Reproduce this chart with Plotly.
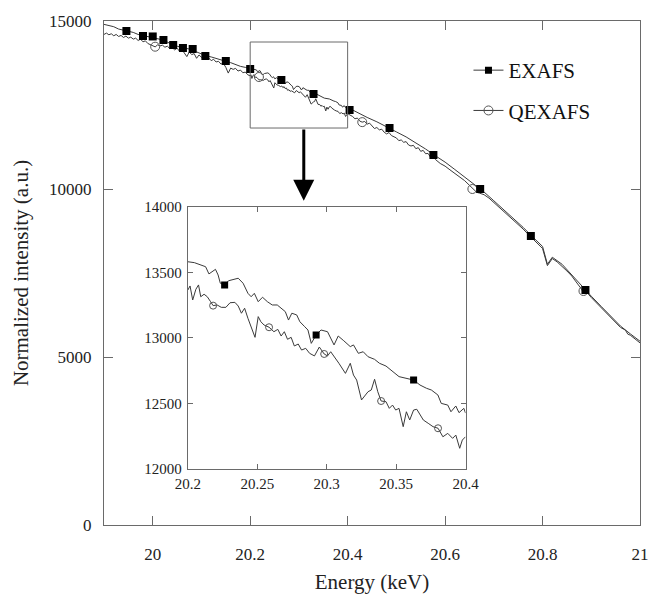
import plotly.graph_objects as go

# ---------------- data ----------------
# main EXAFS line, outside the zoomed window
exafs_left_x = [19.90, 19.91, 19.92, 19.93, 19.94, 19.95, 19.96, 19.97, 19.98, 19.99,
                20.00, 20.01, 20.02, 20.03, 20.04, 20.05, 20.06, 20.07, 20.08, 20.09,
                20.10, 20.11, 20.12, 20.13, 20.14, 20.15, 20.16, 20.17, 20.18, 20.19]
exafs_left_y = [14900, 14870, 14830, 14760, 14730, 14690, 14660, 14600, 14570, 14550,
                14520, 14480, 14440, 14370, 14300, 14250, 14210, 14180, 14150, 14080,
                14010, 13960, 13930, 13880, 13840, 13800, 13760, 13700, 13650, 13620]
exafs_right_x = [20.42, 20.44, 20.46, 20.48, 20.50, 20.52, 20.54, 20.56, 20.58, 20.60,
                 20.62, 20.64, 20.66, 20.68, 20.70, 20.72, 20.74, 20.76, 20.78, 20.80,
                 20.81, 20.82, 20.84, 20.86, 20.88, 20.90, 20.92, 20.94, 20.96, 20.98, 21.00]
exafs_right_y = [12270, 12130, 12000, 11860, 11700, 11550, 11380, 11190, 10990, 10800,
                 10580, 10360, 10150, 9910, 9650, 9390, 9130, 8860, 8570, 8290,
                 7760, 7970, 7760, 7440, 7110, 6810, 6510, 6210, 5920, 5690, 5470]

# main QEXAFS line, outside the zoomed window
qexafs_left_x = [19.900, 19.905, 19.910, 19.915, 19.920, 19.925, 19.930, 19.935, 19.940, 19.945,
                 19.950, 19.955, 19.960, 19.965, 19.970, 19.975, 19.980, 19.985, 19.990, 19.995,
                 20.000, 20.005, 20.010, 20.015, 20.020, 20.025, 20.030, 20.035, 20.040, 20.045,
                 20.050, 20.055, 20.060, 20.065, 20.070, 20.075, 20.080, 20.085, 20.090, 20.095,
                 20.100, 20.105, 20.110, 20.115, 20.120, 20.125, 20.130, 20.135, 20.140, 20.145,
                 20.150, 20.155, 20.160, 20.165, 20.170, 20.175, 20.180, 20.185, 20.190, 20.195]
qexafs_left_y = [14600, 14640, 14590, 14620, 14560, 14600, 14540, 14570, 14510, 14550,
                 14490, 14520, 14460, 14490, 14420, 14460, 14380, 14410, 14330, 14300,
                 14250, 14230, 14290, 14260, 14280, 14220, 14250, 14180, 14210, 14140,
                 14190, 14100, 14150, 14050, 13940, 14080, 14000, 14030, 13890, 13990,
                 13920, 13950, 13860, 13900, 13820, 13860, 13780, 13800, 13720, 13740,
                 13620, 13450, 13600, 13560, 13590, 13510, 13540, 13460, 13480, 13400]
qexafs_right_x = [20.405, 20.410, 20.415, 20.420, 20.425, 20.430, 20.435, 20.440, 20.445, 20.450,
                  20.455, 20.460, 20.465, 20.470, 20.475, 20.480, 20.485, 20.490, 20.495, 20.500,
                  20.505, 20.510, 20.515, 20.520, 20.525, 20.530, 20.535, 20.540, 20.545, 20.550,
                  20.555, 20.560, 20.565, 20.570, 20.575, 20.580, 20.590, 20.600, 20.610, 20.620,
                  20.630, 20.640, 20.650, 20.660, 20.665, 20.670, 20.680, 20.690, 20.700, 20.710,
                  20.720, 20.730, 20.740, 20.750, 20.760, 20.770, 20.780, 20.790, 20.800, 20.810,
                  20.820, 20.830, 20.840, 20.850, 20.860, 20.870, 20.875, 20.880, 20.885, 20.890,
                  20.900, 20.920, 20.940, 20.960, 20.970, 20.975, 20.980, 20.990, 21.000]
qexafs_right_y = [12200, 12160, 12090, 12110, 12020, 11990, 12010, 11930, 11960, 11870,
                  11800, 11830, 11760, 11780, 11690, 11640, 11680, 11590, 11560, 11520,
                  11440, 11460, 11390, 11410, 11310, 11280, 11300, 11200, 11230, 11120,
                  11150, 11050, 11060, 10950, 10990, 10880, 10760, 10680, 10570, 10470,
                  10360, 10250, 10110, 9980, 9900, 9880, 9830, 9730, 9600, 9470,
                  9340, 9220, 9080, 8950, 8810, 8660, 8520, 8380, 8230, 7720,
                  7930, 7830, 7700, 7560, 7410, 7230, 7140, 7020, 6880, 6940,
                  6770, 6470, 6160, 5880, 5800, 5680, 5650, 5540, 5420]

# zoomed window 20.2 - 20.4 keV (shared by the main plot and the inset)
zoom_exafs_x = [20.2000, 20.2047, 20.2128, 20.2152, 20.2199, 20.2218, 20.2234, 20.2265, 20.2293, 20.2363,
                20.2398, 20.2433, 20.2456, 20.2479, 20.2507, 20.2538, 20.2573, 20.2608, 20.2644, 20.2667,
                20.2702, 20.2725, 20.2749, 20.2784, 20.2807, 20.2842, 20.2865, 20.2889, 20.2924, 20.2959,
                20.3006, 20.3053, 20.3083, 20.3123, 20.3170, 20.3193, 20.3228, 20.3263, 20.3298, 20.3345,
                20.3380, 20.3427, 20.3474, 20.3521, 20.3626, 20.3672, 20.3719, 20.3754, 20.3801, 20.3825,
                20.3872, 20.3895, 20.3930, 20.3953, 20.3988, 20.4000]
zoom_exafs_y = [13582, 13575, 13544, 13489, 13524, 13481, 13418, 13405, 13437, 13456,
                13418, 13341, 13315, 13341, 13277, 13311, 13277, 13252, 13252, 13234,
                13201, 13137, 13189, 13176, 13124, 13086, 13061, 12959, 13023, 13061,
                13048, 12947, 13015, 12979, 12934, 12947, 12883, 12895, 12857, 12837,
                12807, 12786, 12743, 12705, 12679, 12641, 12616, 12603, 12565, 12501,
                12488, 12437, 12481, 12430, 12463, 12427]
zoom_qexafs_x = [20.2000, 20.2016, 20.2035, 20.2058, 20.2077, 20.2093, 20.2117, 20.2140, 20.2164, 20.2182,
                 20.2211, 20.2241, 20.2274, 20.2304, 20.2339, 20.2363, 20.2386, 20.2409, 20.2433, 20.2484,
                 20.2507, 20.2526, 20.2549, 20.2585, 20.2620, 20.2648, 20.2672, 20.2695, 20.2718, 20.2744,
                 20.2767, 20.2795, 20.2819, 20.2849, 20.2877, 20.2912, 20.2947, 20.2982, 20.3006, 20.3029,
                 20.3088, 20.3135, 20.3170, 20.3193, 20.3216, 20.3251, 20.3298, 20.3321, 20.3345, 20.3368,
                 20.3392, 20.3427, 20.3451, 20.3474, 20.3497, 20.3521, 20.3551, 20.3574, 20.3598, 20.3626,
                 20.3649, 20.3672, 20.3696, 20.3731, 20.3766, 20.3802, 20.3837, 20.3872, 20.3907, 20.3930,
                 20.3958, 20.3977, 20.4000]
zoom_qexafs_y = [13366, 13397, 13290, 13372, 13405, 13315, 13334, 13315, 13277, 13247,
                 13252, 13234, 13234, 13269, 13272, 13244, 13189, 13227, 13150, 13005,
                 13163, 13124, 13099, 13082, 13048, 13066, 13015, 13048, 12990, 13005,
                 12939, 12954, 12908, 12921, 12883, 12863, 12931, 12878, 12863, 12895,
                 12807, 12730, 12807, 12717, 12679, 12527, 12590, 12603, 12685, 12590,
                 12519, 12514, 12463, 12488, 12450, 12463, 12323, 12437, 12374, 12450,
                 12456, 12412, 12374, 12349, 12323, 12311, 12246, 12272, 12234, 12259,
                 12158, 12221, 12246]

# symbols drawn on the main plot
main_sq_x = [19.946, 19.980, 20.000, 20.022, 20.042, 20.062, 20.082, 20.108, 20.150,
             20.200, 20.264, 20.330, 20.404, 20.486, 20.576, 20.672, 20.776, 20.888]
main_sq_y = [14702, 14554, 14540, 14435, 14286, 14196, 14167, 13958, 13810,
             13571, 13244, 12827, 12351, 11815, 11012, 10000, 8601, 6994]
main_ci_x = [20.005, 20.218, 20.430, 20.656, 20.884]
main_ci_y = [14235, 13333, 11990, 10000, 6964]

# symbols drawn in the inset
inset_sq_x = [20.2265, 20.2924, 20.3626]
inset_sq_y = [13405, 13023, 12679]
inset_ci_x = [20.2182, 20.2585, 20.2982, 20.3392, 20.3802]
inset_ci_y = [13247, 13082, 12878, 12519, 12311]

# zoom window drawn on the main plot, arrow
zoom_box_x = [20.2, 20.4]
zoom_box_y = [11815, 14375]
arrow_x = 20.31
arrow_y = [11815, 9650]

main_xticks = [20, 20.2, 20.4, 20.6, 20.8, 21]
main_xlabels = ["20", "20.2", "20.4", "20.6", "20.8", "21"]
main_yticks = [0, 5000, 10000, 15000]
main_ylabels = ["0", "5000", "10000", "15000"]
inset_xticks = [20.2, 20.25, 20.3, 20.35, 20.4]
inset_xlabels = ["20.2", "20.25", "20.3", "20.35", "20.4"]
inset_yticks = [12000, 12500, 13000, 13500, 14000]
inset_ylabels = ["12000", "12500", "13000", "13500", "14000"]

# ---------------- figure ----------------
FONT = "Liberation Serif, Times New Roman, serif"
LINE = "#3a3a3a"
AXC = "#6a6a6a"
TXT = "#222222"

main_ex_x = exafs_left_x + zoom_exafs_x + exafs_right_x
main_ex_y = exafs_left_y + zoom_exafs_y + exafs_right_y
main_qx_x = qexafs_left_x + zoom_qexafs_x + qexafs_right_x
main_qx_y = qexafs_left_y + zoom_qexafs_y + qexafs_right_y

fig = go.Figure()
lw = 1
# main plot
fig.add_trace(go.Scatter(x=main_qx_x, y=main_qx_y, mode="lines", line=dict(color=LINE, width=lw),
                         showlegend=False, xaxis="x", yaxis="y"))
fig.add_trace(go.Scatter(x=main_ex_x, y=main_ex_y, mode="lines", line=dict(color=LINE, width=lw),
                         showlegend=False, xaxis="x", yaxis="y"))
fig.add_trace(go.Scatter(x=main_ci_x, y=main_ci_y, mode="markers",
                         marker=dict(symbol="circle-open", size=9, color="#555", line=dict(width=1)),
                         showlegend=False, xaxis="x", yaxis="y"))
fig.add_trace(go.Scatter(x=main_sq_x, y=main_sq_y, mode="markers",
                         marker=dict(symbol="square", size=8, color="black"),
                         showlegend=False, xaxis="x", yaxis="y"))
# inset
fig.add_trace(go.Scatter(x=zoom_exafs_x, y=zoom_exafs_y, mode="lines", line=dict(color=LINE, width=lw),
                         showlegend=False, xaxis="x2", yaxis="y2"))
fig.add_trace(go.Scatter(x=zoom_qexafs_x, y=zoom_qexafs_y, mode="lines", line=dict(color=LINE, width=lw),
                         showlegend=False, xaxis="x2", yaxis="y2"))
fig.add_trace(go.Scatter(x=inset_ci_x, y=inset_ci_y, mode="markers",
                         marker=dict(symbol="circle-open", size=7, color="#555", line=dict(width=1)),
                         showlegend=False, xaxis="x2", yaxis="y2"))
fig.add_trace(go.Scatter(x=inset_sq_x, y=inset_sq_y, mode="markers",
                         marker=dict(symbol="square", size=7, color="black"),
                         showlegend=False, xaxis="x2", yaxis="y2"))
# legend entries
fig.add_trace(go.Scatter(x=[None], y=[None], mode="lines+markers", name="EXAFS", legendgroup="a",
                         line=dict(color=LINE, width=1),
                         marker=dict(symbol="square", size=7, color="black")))
fig.add_trace(go.Scatter(x=[None], y=[None], mode="lines+markers", name="QEXAFS", legendgroup="b",
                         line=dict(color=LINE, width=1),
                         marker=dict(symbol="circle-open", size=9, color="#555", line=dict(width=1))))

fig.add_shape(type="rect", xref="x", yref="y", x0=zoom_box_x[0], x1=zoom_box_x[1],
              y0=zoom_box_y[0], y1=zoom_box_y[1], line=dict(color=AXC, width=1))
fig.add_annotation(x=arrow_x, y=arrow_y[1], ax=arrow_x, ay=arrow_y[0], xref="x", yref="y",
                   axref="x", ayref="y", text="", showarrow=True, arrowhead=2, arrowsize=1.4,
                   arrowwidth=3, arrowcolor="black", standoff=0, startstandoff=0)

axis_common = dict(showline=True, linecolor=AXC, linewidth=1, mirror="ticks", ticks="inside",
                   tickcolor=AXC, showgrid=False, zeroline=False)

def tf(size):
    return dict(family=FONT, size=size, color=TXT)

fig.update_layout(
    width=662, height=598,
    margin=dict(l=104, r=8, t=21, b=73),
    paper_bgcolor="white", plot_bgcolor="white",
    font=dict(family=FONT, color=TXT),
    xaxis=dict(axis_common, domain=[0, 1], range=[19.9, 21], tickvals=main_xticks, ticktext=main_xlabels,
               ticklen=9, tickfont=tf(17), ticklabelstandoff=14,
               title=dict(text="Energy (keV)", font=tf(21), standoff=10)),
    yaxis=dict(axis_common, domain=[0, 1], range=[0, 15000], tickvals=main_yticks, ticktext=main_ylabels,
               ticklen=9, tickfont=tf(17), ticklabelstandoff=8,
               title=dict(text="Normalized intensity (a.u.)", font=tf(21), standoff=14)),
    xaxis2=dict(axis_common, domain=[0.1564, 0.6745], anchor="y2", range=[20.2, 20.4],
                tickvals=inset_xticks, ticktext=inset_xlabels, ticklen=5, tickfont=tf(15),
                ticklabelstandoff=1),
    yaxis2=dict(axis_common, domain=[0.1111, 0.6310], anchor="x2", range=[12000, 14000],
                tickvals=inset_yticks, ticktext=inset_ylabels, ticklen=5, tickfont=tf(15),
                ticklabelstandoff=2),
    legend=dict(x=(478 - 104) / 550, y=(525 - 50) / 504, xanchor="left", yanchor="top",
                font=dict(size=21, family=FONT, color="#111"), bgcolor="rgba(0,0,0,0)",
                borderwidth=0, tracegroupgap=10, itemwidth=30),
)

fig.write_html("out.html", config={"displayModeBar": False},
               post_script="document.body.style.margin='0';")
